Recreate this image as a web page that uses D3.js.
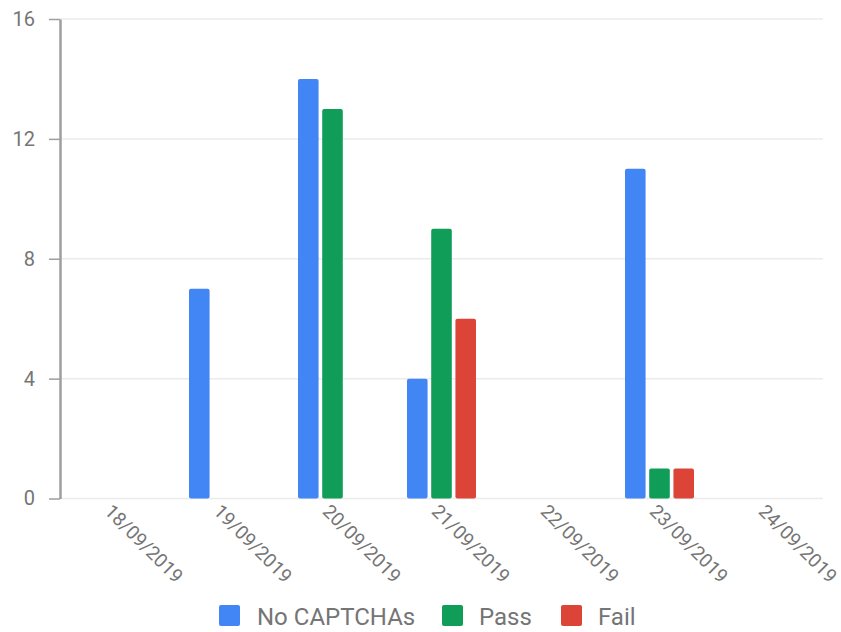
<!DOCTYPE html>
<html>
<head>
<meta charset="utf-8">
<script src="https://cdn.jsdelivr.net/npm/d3@7"></script>
<style>
  body { margin: 0; background: #fff; }
  svg { font-family: Roboto, sans-serif; }
</style>
</head>
<body>
<div class="chart"></div>
<script>
// data
const dates = ['18/09/2019', '19/09/2019', '20/09/2019', '21/09/2019', '22/09/2019', '23/09/2019', '24/09/2019'];
const series = ['No CAPTCHAs', 'Pass', 'Fail'];
const noCaptcha = [0, 7, 14, 4, 0, 11, 0];
const pass = [0, 0, 13, 9, 0, 1, 0];
const fail = [0, 0, 0, 6, 0, 1, 0];
const yTicks = [0, 4, 8, 12, 16];
const colors = ['#4285f4', '#0f9d58', '#db4437'];

const values = [noCaptcha, pass, fail];
const rows = dates.map((d, i) => ({ date: d, vals: series.map((s, j) => ({ key: s, value: values[j][i] })) }));

const width = 841;
const height = 632;
const margin = { top: 19, right: 18, bottom: 134, left: 60 };

const svg = d3.select('.chart').append('svg')
  .attr('width', width)
  .attr('height', height);

const x0 = d3.scaleBand().domain(dates).range([margin.left, width - margin.right]);
const x1 = d3.scaleBand().domain(series).range([-34.5, 34.5]).paddingInner(0.15);
const y = d3.scaleLinear().domain([0, 16]).range([height - margin.bottom + 0.5, margin.top]);
const color = d3.scaleOrdinal().domain(series).range(colors);

// grid
svg.append('g')
  .selectAll('line')
  .data(yTicks)
  .enter().append('line')
  .attr('x1', margin.left)
  .attr('x2', width - margin.right)
  .attr('y1', d => y(d))
  .attr('y2', d => y(d))
  .attr('stroke', '#ebebeb')
  .attr('stroke-width', 1.5);

// bars
const groups = svg.append('g')
  .selectAll('g')
  .data(rows)
  .enter().append('g')
  .attr('transform', d => `translate(${x0(d.date) + x0.bandwidth() / 2},0)`);

groups.selectAll('rect')
  .data(d => d.vals.filter(v => v.value > 0))
  .enter().append('rect')
  .attr('x', d => x1(d.key))
  .attr('width', x1.bandwidth())
  .attr('y', d => y(d.value))
  .attr('height', d => y(0) - y(d.value))
  .attr('rx', 2)
  .attr('fill', d => color(d.key));

// y axis
const yAxis = svg.append('g')
  .attr('transform', `translate(${margin.left},0)`)
  .call(d3.axisLeft(y).tickValues(yTicks).tickSize(11).tickPadding(14).tickSizeOuter(0));
yAxis.select('.domain').attr('stroke', '#9e9e9e').attr('stroke-width', 2.5);
yAxis.selectAll('.tick line').attr('stroke', '#9e9e9e').attr('stroke-width', 1.5);
yAxis.selectAll('text')
  .attr('fill', '#757575')
  .style('font-size', '20px')
  .style('font-family', 'Roboto, sans-serif');

// x labels
svg.append('g')
  .selectAll('text')
  .data(dates)
  .enter().append('text')
  .attr('transform', d => `translate(${x0(d) + x0.bandwidth() / 2 - 11},${y(0) + 14}) rotate(45)`)
  .attr('fill', '#757575')
  .style('font-size', '19px')
  .text(d => d);

// legend
const legendX = [219, 442, 561];
const legend = svg.append('g')
  .selectAll('g')
  .data(series)
  .enter().append('g')
  .attr('transform', (d, i) => `translate(${legendX[i]},605)`);

legend.append('rect')
  .attr('width', 21)
  .attr('height', 21)
  .attr('rx', 2)
  .attr('fill', d => color(d));

legend.append('text')
  .attr('x', d => d === 'No CAPTCHAs' ? 38 : 37)
  .attr('y', 20)
  .attr('fill', '#757575')
  .style('font-size', '24px')
  .text(d => d);
</script>
</body>
</html>
